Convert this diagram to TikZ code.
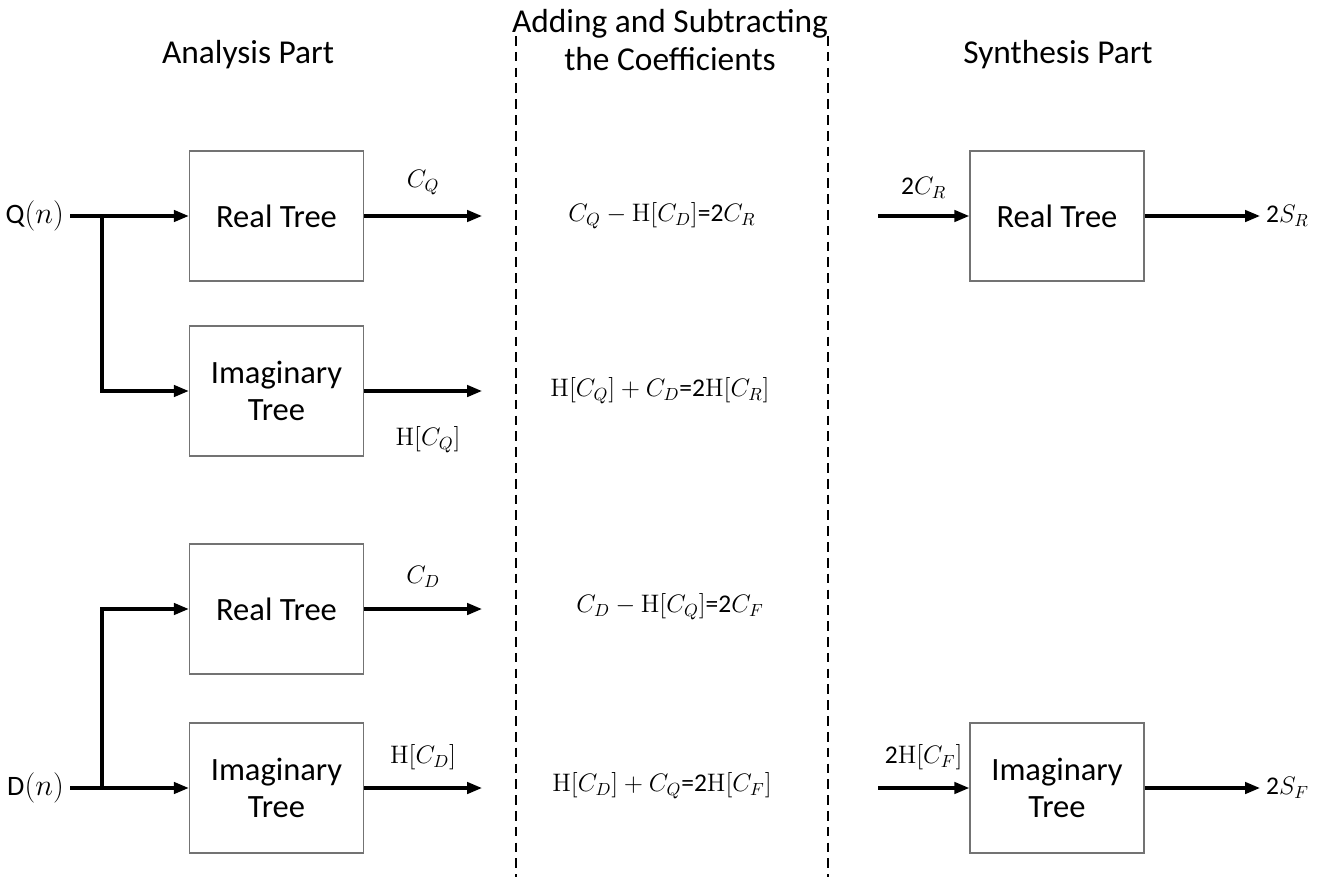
\documentclass[tikz,border=0pt]{standalone}
\usepackage[no-math]{fontspec}
\setmainfont{Carlito}
\usepackage{tikz}
\usetikzlibrary{arrows.meta}
\usetikzlibrary{positioning}
\tikzstyle{tree}=[draw=black!55,line width=0.8pt,minimum width=34.8mm,minimum height=26mm,align=center,font=\fontsize{18.5}{21.5}\selectfont]
\tikzstyle{flow}=[line width=1.8pt,-{Triangle[length=8.5pt,width=6.5pt]}]
\tikzstyle{lbl}=[font=\fontsize{14.5}{17}\selectfont]
\tikzstyle{head}=[align=center,font=\fontsize{19}{22}\selectfont]

\begin{document}
\begin{tikzpicture}[x=0.2mm,y=-0.2mm]
\useasboundingbox (0,0) rectangle (1332,877);
% coefficient stage
\draw[line width=1.6pt,dash pattern=on 5.5pt off 3.5pt] (516,36) -- (516,877);
\draw[line width=1.6pt,dash pattern=on 5.5pt off 3.5pt] (828,36) -- (828,877);
\node[head] (ha) at (248,55) {Analysis Part};
\node[head] (hc) at (670,40) {Adding and Subtracting\\the Coefficients};
\node[head] (hs) at (1058,55) {Synthesis Part};

\node[tree] (rt1) at (276.5,216) {Real Tree};
\node[tree] (it1) at (276.5,391) {Imaginary\\Tree};
\node[tree] (rt2) at (276.5,609) {Real Tree};
\node[tree] (it2) at (276.5,788) {Imaginary\\Tree};
\node[tree] (rt3) at (1057,216) {Real Tree};
\node[tree] (it3) at (1057,788) {Imaginary\\Tree};

\node[lbl,font=\fontsize{16}{18}\selectfont,anchor=east] (q) at (70,216) {Q$(n)$};
\node[lbl,font=\fontsize{16}{18}\selectfont,anchor=east] (d) at (70,788) {D$(n)$};
\coordinate (qj) at (102,216);
\coordinate (dj) at (102,788);
\draw[flow] (q.east) -- (rt1.west);
\draw[flow] (qj) |- (it1.west);
\draw[flow] (d.east) -- (it2.west);
\draw[flow] (dj) |- (rt2.west);

\coordinate (o1) at (482,216);
\coordinate (o2) at (482,391);
\coordinate (o3) at (482,609);
\coordinate (o4) at (482,788);
\draw[flow] (rt1.east) -- (o1) node[lbl,midway,above=8pt] {$C_Q$};
\draw[flow] (it1.east) -- (o2);
\node[lbl] (hq) at (428,440) {$\mathrm{H}\big[C_Q\big]$};
\draw[flow] (rt2.east) -- (o3) node[lbl,midway,above=8pt] {$C_D$};
\draw[flow] (it2.east) -- (o4) node[lbl,midway,above=6pt] {$\mathrm{H}[C_D]$};

\node[lbl] (e1) at (662,216) {$C_Q-\mathrm{H}[C_D]$=2$C_R$};
\node[lbl] (e2) at (660,391) {$\mathrm{H}\big[C_Q\big]+C_D$=2$\mathrm{H}[C_R]$};
\node[lbl] (e3) at (670,607) {$C_D-\mathrm{H}\big[C_Q\big]$=2$C_F$};
\node[lbl] (e4) at (662,786) {$\mathrm{H}[C_D]+C_Q$=2$\mathrm{H}[C_F]$};

\coordinate (i1) at (878,216);
\coordinate (i2) at (878,788);
\coordinate (s1) at (1260,216);
\coordinate (s2) at (1260,788);
\draw[flow] (i1) -- (rt3.west) node[lbl,midway,above=6pt] {2$C_R$};
\draw[flow] (i2) -- (it3.west) node[lbl,midway,above=6pt] {2$\mathrm{H}[C_F]$};
\draw[flow] (rt3.east) -- (s1);
\draw[flow] (it3.east) -- (s2);
\node[lbl,anchor=west] (sr) at (s1) {2$S_R$};
\node[lbl,anchor=west] (sf) at (s2) {2$S_F$};
\end{tikzpicture}
\end{document}
